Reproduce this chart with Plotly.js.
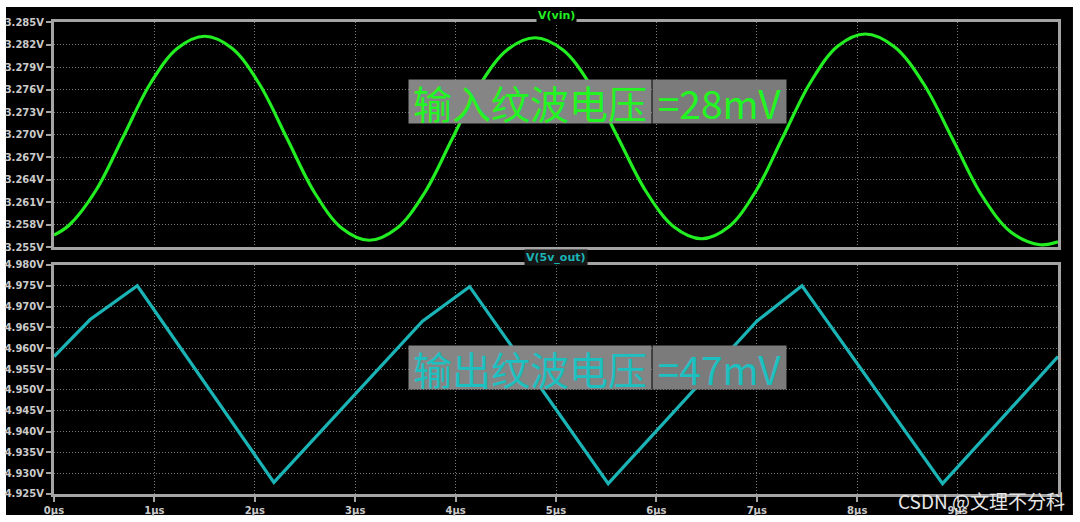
<!DOCTYPE html>
<html>
<head>
<meta charset="utf-8">
<script src="https://cdn.plot.ly/plotly-3.0.1.min.js"></script>
<style>
html,body{margin:0;padding:0;background:#ffffff;}
#chart{width:1080px;height:522px;}
</style>
</head>
<body>
<div id="chart"></div>
<script>
// ---- data ----
const timeTop_us = [0, 0.15, 0.42, 0.69, 0.96, 1.23, 1.50,
  1.773, 2.047, 2.32, 2.593, 2.867, 3.14,
  3.415, 3.69, 3.965, 4.24, 4.515, 4.79,
  5.067, 5.343, 5.62, 5.897, 6.173, 6.45,
  6.722, 6.993, 7.265, 7.537, 7.808, 8.08,
  8.37, 8.66, 8.95, 9.24, 9.53, 9.82, 10];
const vin_V = [3.2566, 3.2579, 3.2626, 3.2697, 3.2768, 3.2815, 3.2831,
  3.2815, 3.2767, 3.2695, 3.2623, 3.2575, 3.2559,
  3.2575, 3.2622, 3.2694, 3.2766, 3.2813, 3.2829,
  3.2813, 3.2766, 3.2695, 3.2624, 3.2577, 3.2561,
  3.2577, 3.2625, 3.2698, 3.2770, 3.2818, 3.2834,
  3.2817, 3.2768, 3.2694, 3.2619, 3.2570, 3.2553, 3.2557];

const timeBot_us = [0, 0.36, 0.83, 2.19, 3.67, 4.14, 5.52, 7.00, 7.45, 8.85, 10];
const vout_V = [4.958, 4.9669, 4.975, 4.9278, 4.9665, 4.9748, 4.9275, 4.9665, 4.975, 4.9275, 4.958];

const xTickVals = [0, 1, 2, 3, 4, 5, 6, 7, 8, 9];
const xTickText = ["0µs", "1µs", "2µs", "3µs", "4µs", "5µs", "6µs", "7µs", "8µs", "9µs"];
const yTopTickVals = [3.255, 3.258, 3.261, 3.264, 3.267, 3.270, 3.273, 3.276, 3.279, 3.282, 3.285];
const yTopTickText = ["3.255V", "3.258V", "3.261V", "3.264V", "3.267V", "3.270V", "3.273V", "3.276V", "3.279V", "3.282V", "3.285V"];
const yBotTickVals = [4.925, 4.930, 4.935, 4.940, 4.945, 4.950, 4.955, 4.960, 4.965, 4.970, 4.975, 4.980];
const yBotTickText = ["4.925V", "4.930V", "4.935V", "4.940V", "4.945V", "4.950V", "4.955V", "4.960V", "4.965V", "4.970V", "4.975V", "4.980V"];

const titleTop = "V(vin)";
const titleBot = "V(5v_out)";
const noteTopA = "输入纹波电压", noteTopB = "=28mV";
const noteBotA = "输出纹波电压", noteBotB = "=47mV";
const watermark = "CSDN @文理不分科";

// ---- styles ----
const green = "#22ee22", teal = "#1bb4b6";
const frame = "#a4a4a4", grid = "#7a7a7a";
const tickFont = {family: "DejaVu Sans", size: 10, color: "#cacaca", weight: "bold"};

const traces = [
  {x: timeTop_us, y: vin_V, xaxis: "x2", yaxis: "y2", type: "scatter", mode: "lines",
   line: {color: green, width: 3.2, shape: "spline", smoothing: 1}, hoverinfo: "skip"},
  {x: timeBot_us, y: vout_V, xaxis: "x", yaxis: "y", type: "scatter", mode: "lines",
   line: {color: teal, width: 3.2}, hoverinfo: "skip"}
];

const axBase = {
  showgrid: true, gridcolor: grid, griddash: "1px,2px", gridwidth: 1,
  showline: true, linecolor: frame, linewidth: 3, mirror: true,
  zeroline: false, ticks: "outside", ticklen: 5, tickwidth: 2, tickcolor: frame,
  tickfont: tickFont, fixedrange: true
};

const layout = {
  width: 1080, height: 522,
  margin: {l: 54, r: 22, t: 22, b: 28, pad: 0},
  paper_bgcolor: "#ffffff", plot_bgcolor: "#000000",
  showlegend: false,
  xaxis: Object.assign({}, axBase, {domain: [0, 1], anchor: "y", range: [0, 10],
    tickmode: "array", tickvals: xTickVals, ticktext: xTickText}),
  xaxis2: Object.assign({}, axBase, {domain: [0, 1], anchor: "y2", range: [0, 10],
    tickmode: "array", tickvals: xTickVals, showticklabels: false, ticks: ""}),
  yaxis: Object.assign({}, axBase, {domain: [0, 0.4852], anchor: "x", range: [4.925, 4.980],
    tickmode: "array", tickvals: yBotTickVals, ticktext: yBotTickText}),
  yaxis2: Object.assign({}, axBase, {domain: [0.5233, 1], anchor: "x2", range: [3.255, 3.285],
    tickmode: "array", tickvals: yTopTickVals, ticktext: yTopTickText}),
  shapes: [
    {type: "rect", xref: "paper", yref: "paper", x0: -0.0478, x1: 1.0149, y0: -0.0445, y1: 1.0318,
     fillcolor: "#000000", line: {width: 0}, layer: "below"}
  ],
  annotations: [
    {text: titleTop, xref: "paper", yref: "paper", x: 0.5, y: 1.0148, xanchor: "center", yanchor: "middle",
     showarrow: false, bgcolor: "#000000", borderpad: 1,
     font: {family: "DejaVu Sans", size: 11, color: green, weight: "bold"}},
    {text: titleBot, xref: "paper", yref: "paper", x: 0.5, y: 0.5021, xanchor: "center", yanchor: "middle",
     showarrow: false, bgcolor: "#151515", borderpad: 1,
     font: {family: "DejaVu Sans", size: 11, color: teal, weight: "bold"}},
    {text: noteTopA, xref: "paper", yref: "paper", x: 0.5956, y: 0.832, xanchor: "right", yanchor: "middle",
     showarrow: false, bgcolor: "#858585", borderpad: 0, width: 242, height: 43,
     font: {family: "Noto Sans CJK SC", size: 39, color: "#22f522"}},
    {text: noteTopB, xref: "paper", yref: "paper", x: 0.5956, y: 0.832, xanchor: "left", yanchor: "middle",
     showarrow: false, bgcolor: "#7b7b7b", borderpad: 0, width: 133, height: 43,
     font: {family: "Noto Sans CJK SC", size: 39, color: "#22f522"}},
    {text: noteBotA, xref: "paper", yref: "paper", x: 0.5956, y: 0.267, xanchor: "right", yanchor: "middle",
     showarrow: false, bgcolor: "#858585", borderpad: 0, width: 242, height: 43,
     font: {family: "Noto Sans CJK SC", size: 39, color: "#1cc0c0"}},
    {text: noteBotB, xref: "paper", yref: "paper", x: 0.5956, y: 0.267, xanchor: "left", yanchor: "middle",
     showarrow: false, bgcolor: "#7b7b7b", borderpad: 0, width: 133, height: 43,
     font: {family: "Noto Sans CJK SC", size: 39, color: "#1cc0c0"}},
    {text: watermark, xref: "paper", yref: "paper", x: 1.009, y: -0.0148, xanchor: "right", yanchor: "middle",
     showarrow: false,
     font: {family: "Noto Sans CJK SC", size: 19, color: "#e6e6e6"}}
  ]
};

Plotly.newPlot("chart", traces, layout, {displayModeBar: false, staticPlot: true});
</script>
</body>
</html>
